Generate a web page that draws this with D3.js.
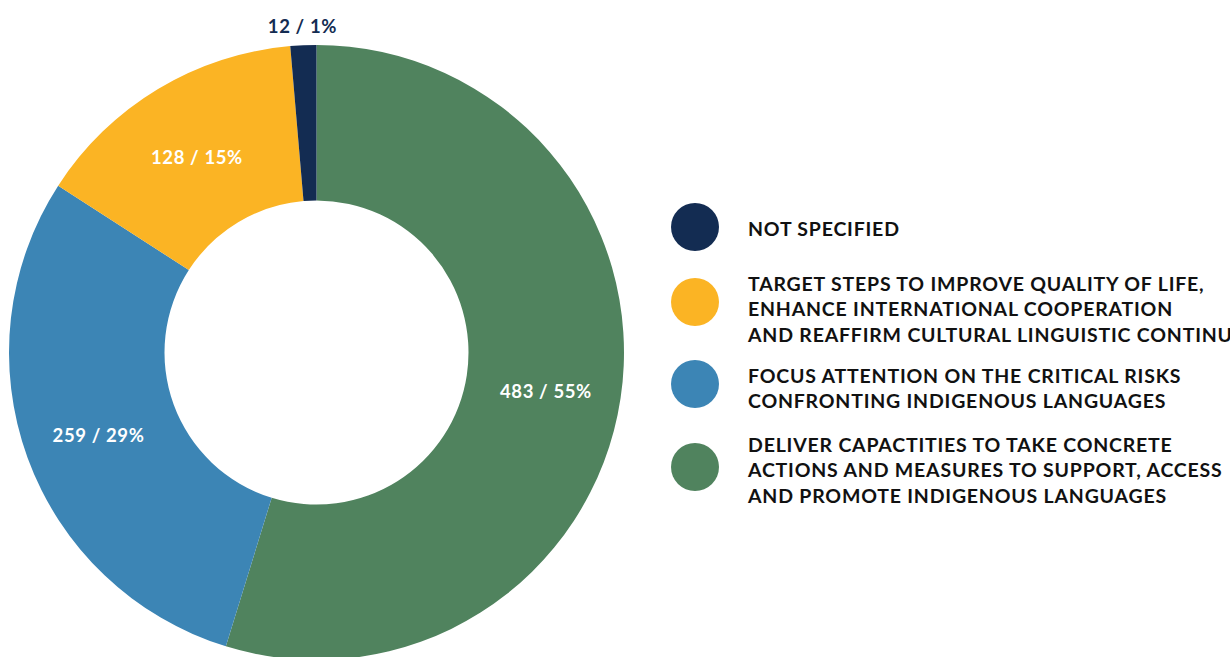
<!DOCTYPE html>
<html>
<head>
<meta charset="utf-8">
<script src="https://d3js.org/d3.v7.min.js"></script>
<style>
  body { margin: 0; background: #fff; }
  svg { display: block; }
  text { font-family: Lato, sans-serif; font-weight: 700; }
</style>
</head>
<body>
<script>
  // slices in drawing order, clockwise from 12 o'clock
  var values = [483, 259, 128, 12];
  var labels = ["483 / 55%", "259 / 29%", "128 / 15%", "12 / 1%"];
  var colors = ["#50835E", "#3C85B5", "#FBB424", "#132C52"];

  var legendColors = ["#132C52", "#FBB424", "#3C85B5", "#50835E"];
  var legendLines = [
    ["NOT SPECIFIED"],
    ["TARGET STEPS TO IMPROVE QUALITY OF LIFE,", "ENHANCE INTERNATIONAL COOPERATION", "AND REAFFIRM CULTURAL LINGUISTIC CONTINUITY"],
    ["FOCUS ATTENTION ON THE CRITICAL RISKS", "CONFRONTING INDIGENOUS LANGUAGES"],
    ["DELIVER CAPACTITIES TO TAKE CONCRETE", "ACTIONS AND MEASURES TO SUPPORT, ACCESS", "AND PROMOTE INDIGENOUS LANGUAGES"]
  ];

  var width = 1230, height = 657;
  var cx = 316.5, cy = 352.5, outerR = 307.5, innerR = 152;

  var svg = d3.select("body").append("svg")
      .attr("width", width)
      .attr("height", height);

  var pie = d3.pie().sort(null).value(d => d);
  var arcs = pie(values);

  var arc = d3.arc().innerRadius(innerR).outerRadius(outerR);
  var labelArc = d3.arc().innerRadius(232).outerRadius(232);
  var outArc = d3.arc().innerRadius(330).outerRadius(330);

  var g = svg.append("g")
      .attr("transform", "translate(" + cx + "," + cy + ")");

  g.selectAll("path")
      .data(arcs)
      .enter()
      .append("path")
      .attr("d", arc)
      .attr("fill", (d, i) => colors[i]);

  g.selectAll("text.lbl")
      .data(arcs)
      .enter()
      .append("text")
      .attr("class", "lbl")
      .attr("transform", (d, i) => {
          var c = i === 3 ? outArc.centroid(d) : labelArc.centroid(d);
          return "translate(" + c[0] + "," + (c[1] + 4) + ")";
      })
      .attr("text-anchor", "middle")
      .attr("dy", "0.35em")
      .attr("font-size", 18.5)
      .attr("letter-spacing", 0.6)
      .attr("fill", (d, i) => i === 3 ? "#132C52" : "#fff")
      .text((d, i) => labels[i]);

  // legend
  var circleY = [227, 302, 384, 467];
  var firstLineY = [229, 284, 376, 445];
  var lineH = 25.5;

  var legend = svg.append("g");
  legendLines.forEach((lines, i) => {
      legend.append("circle")
          .attr("cx", 695)
          .attr("cy", circleY[i])
          .attr("r", 24)
          .attr("fill", legendColors[i]);
      var t = legend.append("text")
          .attr("font-size", 19.5)
          .attr("letter-spacing", 0.8)
          .attr("fill", "#111");
      lines.forEach((l, j) => {
          t.append("tspan")
              .attr("x", 748)
              .attr("y", firstLineY[i] + j * lineH)
              .attr("dy", "0.35em")
              .text(l);
      });
  });
</script>
</body>
</html>
